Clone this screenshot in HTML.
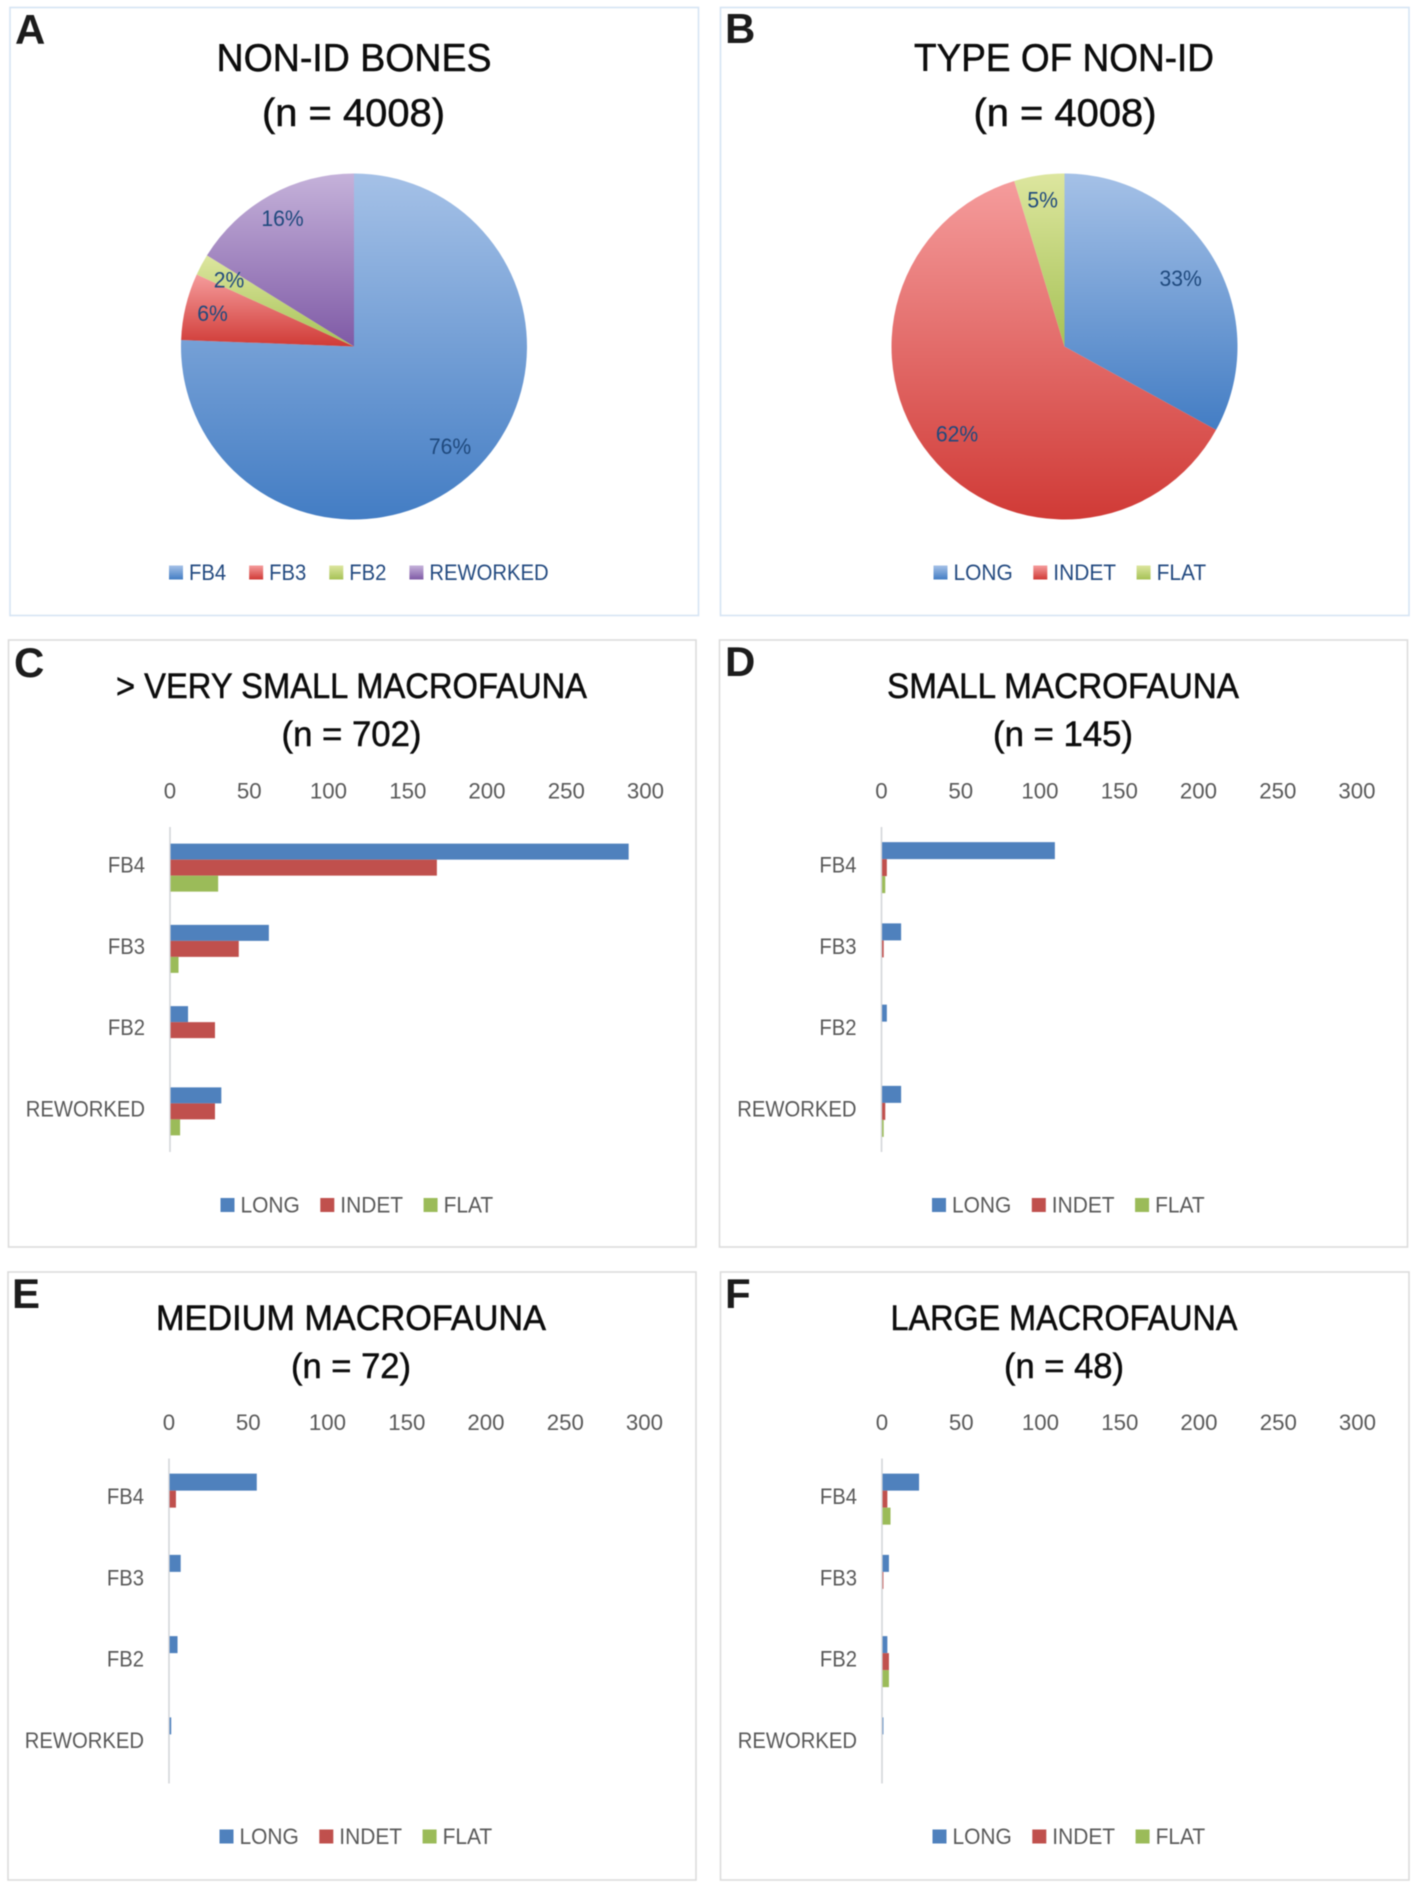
<!DOCTYPE html>
<html lang="en">
<head>
<meta charset="utf-8">
<title>Non-ID bones charts</title>
<style>
html,body{margin:0;padding:0;background:#fff;}
svg{display:block;filter:blur(0.45px);}
text{font-family:"Liberation Sans",sans-serif;}
.frame-blue{fill:#fff;stroke:#d6e4f3;stroke-width:1.6;}
.frame-grey{fill:#fff;stroke:#dcdcdc;stroke-width:1.6;}
.letter{font-size:42px;font-weight:700;fill:#1c1c1c;}
.title-pie{font-size:39px;fill:#0d0d0d;stroke:#0d0d0d;stroke-width:0.5;text-anchor:middle;}
.title-bar{font-size:35px;fill:#0d0d0d;stroke:#0d0d0d;stroke-width:0.5;text-anchor:middle;}
</style>
</head>
<body>
<svg id="figure" xmlns="http://www.w3.org/2000/svg" width="1417" height="1887" viewBox="0 0 1417 1887">
  <defs>
    <linearGradient id="grad-blue" x1="0" y1="0" x2="0" y2="1"><stop offset="0" stop-color="#a5c1e7"/><stop offset="1" stop-color="#437dc4"/></linearGradient>
    <linearGradient id="grad-red" x1="0" y1="0" x2="0" y2="1"><stop offset="0" stop-color="#f59c9c"/><stop offset="1" stop-color="#d03a36"/></linearGradient>
    <linearGradient id="grad-green" x1="0" y1="0" x2="0" y2="1"><stop offset="0" stop-color="#dde69f"/><stop offset="1" stop-color="#a6c256"/></linearGradient>
    <linearGradient id="grad-purple" x1="0" y1="0" x2="0" y2="1"><stop offset="0" stop-color="#c5b2da"/><stop offset="1" stop-color="#7f5aa6"/></linearGradient>
  </defs>

  <g id="panel-a">
    <rect class="frame-blue" x="10" y="7.5" width="688.5" height="608"/>
    <text class="letter" x="15" y="44">A</text>
    <text class="title-pie" x="354" y="71" textLength="275" lengthAdjust="spacingAndGlyphs">NON-ID BONES</text>
    <text class="title-pie" x="353.5" y="126" textLength="183" lengthAdjust="spacingAndGlyphs">(n = 4008)</text>
  </g>
  <g id="panel-b">
    <rect class="frame-blue" x="720.5" y="7.5" width="688.5" height="608"/>
    <text class="letter" x="725" y="43">B</text>
    <text class="title-pie" x="1064" y="71" textLength="300" lengthAdjust="spacingAndGlyphs">TYPE OF NON-ID</text>
    <text class="title-pie" x="1065" y="126" textLength="183" lengthAdjust="spacingAndGlyphs">(n = 4008)</text>
  </g>
  <g id="panel-c">
    <rect class="frame-grey" x="8.5" y="640" width="687.5" height="607"/>
    <text class="letter" x="14" y="677">C</text>
    <text class="title-bar" x="351.5" y="698" textLength="471" lengthAdjust="spacingAndGlyphs">&gt; VERY SMALL MACROFAUNA</text>
    <text class="title-bar" x="351.5" y="746" textLength="140" lengthAdjust="spacingAndGlyphs">(n = 702)</text>
  </g>
  <g id="panel-d">
    <rect class="frame-grey" x="719.5" y="640" width="688" height="607"/>
    <text class="letter" x="725" y="676">D</text>
    <text class="title-bar" x="1063" y="698" textLength="352" lengthAdjust="spacingAndGlyphs">SMALL MACROFAUNA</text>
    <text class="title-bar" x="1063" y="746" textLength="140" lengthAdjust="spacingAndGlyphs">(n = 145)</text>
  </g>
  <g id="panel-e">
    <rect class="frame-grey" x="8" y="1272" width="688" height="608"/>
    <text class="letter" x="12" y="1308">E</text>
    <text class="title-bar" x="351" y="1330" textLength="390" lengthAdjust="spacingAndGlyphs">MEDIUM MACROFAUNA</text>
    <text class="title-bar" x="351" y="1378" textLength="120" lengthAdjust="spacingAndGlyphs">(n = 72)</text>
  </g>
  <g id="panel-f">
    <rect class="frame-grey" x="720.5" y="1272" width="688.5" height="608"/>
    <text class="letter" x="725" y="1308">F</text>
    <text class="title-bar" x="1064" y="1330" textLength="347" lengthAdjust="spacingAndGlyphs">LARGE MACROFAUNA</text>
    <text class="title-bar" x="1064" y="1378" textLength="120" lengthAdjust="spacingAndGlyphs">(n = 48)</text>
  </g>
</svg>

<script>
// ---- data: pie charts ----
var pieACategories = ['FB4', 'FB3', 'FB2', 'REWORKED'];
var pieAValues = [3030, 250, 80, 648];
var pieBCategories = ['LONG', 'INDET', 'FLAT'];
var pieBValues = [1323, 2497, 188];

// ---- data: bar charts ----
var barCategories = ['FB4', 'FB3', 'FB2', 'REWORKED'];
var seriesNames = ['LONG', 'INDET', 'FLAT'];
var xTickValues = [0, 50, 100, 150, 200, 250, 300];

var panelCLong = [289, 62, 11, 32];
var panelCIndet = [168, 43, 28, 28];
var panelCFlat = [30, 5, 0, 6];

var panelDLong = [109, 12, 3, 12];
var panelDIndet = [3, 1, 0, 2];
var panelDFlat = [2, 0, 0, 1];

var panelELong = [55, 7, 5, 1];
var panelEIndet = [4, 0, 0, 0];
var panelEFlat = [0, 0, 0, 0];

var panelFLong = [23, 4, 3, 0.5];
var panelFIndet = [3, 0.5, 4, 0];
var panelFFlat = [5, 0, 4, 0];

// ---- drawing helpers ----
var NS = 'http://www.w3.org/2000/svg';
var seriesColors = ['#4f81bd', '#c0504d', '#9bbb59'];
var pieFills = ['url(#grad-blue)', 'url(#grad-red)', 'url(#grad-green)', 'url(#grad-purple)'];
var pieThreeFills = ['url(#grad-blue)', 'url(#grad-red)', 'url(#grad-green)'];
var pieALabelRadius = [0.8, 0.84, 0.82, 0.85];
var pieBLabelRadius = [0.78, 0.8, 0.86];

function addText(parent, str, x, y, size, color, anchor, squeeze) {
  var el = document.createElementNS(NS, 'text');
  el.textContent = str;
  el.setAttribute('x', x);
  el.setAttribute('y', y);
  el.setAttribute('font-size', size);
  el.setAttribute('fill', color);
  el.setAttribute('text-anchor', anchor);
  parent.appendChild(el);
  var w = el.getComputedTextLength() * squeeze;
  el.setAttribute('textLength', w.toFixed(2));
  el.setAttribute('lengthAdjust', 'spacingAndGlyphs');
  return el;
}

function addLegend(parent, names, fills, startX, centerY, color, gap, squeeze) {
  var x = startX;
  for (var i = 0; i < names.length; i++) {
    var sw = document.createElementNS(NS, 'rect');
    
    
    sw.setAttribute('x', x);
    sw.setAttribute('y', centerY - 7);
    sw.setAttribute('width', 14);
    sw.setAttribute('height', 14);
    sw.setAttribute('fill', fills[i]);
    parent.appendChild(sw);
    var t = addText(parent, names[i], x + 20, centerY + 7.5, 22.5, color, 'start', squeeze);
    
    
    x += 20 + parseFloat(t.getAttribute('textLength')) + gap;
  }
}

function drawPie(panelId, names, values, fills, radii, cx, cy, r, legendX, legendGap, legendSqueeze) {
  var panel = document.getElementById(panelId);
  var total = 0;
  for (var i = 0; i < values.length; i++) { total += values[i]; }
  var cum = 0;
  var labels = [];
  for (var j = 0; j < values.length; j++) {
    var a0 = cum / total * 2 * Math.PI;
    cum += values[j];
    var a1 = cum / total * 2 * Math.PI;
    var mid = (a0 + a1) / 2;
    var large = (a1 - a0) > Math.PI ? 1 : 0;
    var d = 'M' + cx + ' ' + cy +
      'L' + (cx + r * Math.sin(a0)).toFixed(2) + ' ' + (cy - r * Math.cos(a0)).toFixed(2) +
      'A' + r + ' ' + r + ' 0 ' + large + ' 1 ' +
      (cx + r * Math.sin(a1)).toFixed(2) + ' ' + (cy - r * Math.cos(a1)).toFixed(2) + 'Z';
    var slice = document.createElementNS(NS, 'path');
    
    
    slice.setAttribute('d', d);
    slice.setAttribute('fill', fills[j]);
    panel.appendChild(slice);
    labels.push({
      text: Math.round(values[j] / total * 100) + '%',
      x: cx + radii[j] * r * Math.sin(mid),
      y: cy - radii[j] * r * Math.cos(mid)
    });
  }
  for (var k = 0; k < labels.length; k++) {
    var lab = addText(panel, labels[k].text, labels[k].x.toFixed(1), (labels[k].y + 8).toFixed(1), 22.5, '#1f497d', 'middle', 0.94);
    
    
  }
  addLegend(panel, names, fills, legendX, 572.5, '#234a80', legendGap, legendSqueeze);
}

function drawBars(panelId, longVals, indetVals, flatVals, axisX, axisTop, barH) {
  var panel = document.getElementById(panelId);
  var axisLen = 325;
  var maxTick = xTickValues[xTickValues.length - 1];
  function xScale(v) { return axisX + v / maxTick * 475.5; }
  function bandCenter(i) { return axisTop + (i + 0.5) * axisLen / barCategories.length; }

  var line = document.createElementNS(NS, 'line');
  
  
  line.setAttribute('x1', axisX);
  line.setAttribute('x2', axisX);
  line.setAttribute('y1', axisTop);
  line.setAttribute('y2', axisTop + axisLen);
  line.setAttribute('stroke', '#d4d6da');
  line.setAttribute('stroke-width', 1.6);
  panel.appendChild(line);

  for (var t = 0; t < xTickValues.length; t++) {
    var tick = addText(panel, String(xTickValues[t]), xScale(xTickValues[t]).toFixed(1), axisTop - 28.5, 22.5, '#595959', 'middle', 0.99);
    
    
  }

  var series = [longVals, indetVals, flatVals];
  for (var c = 0; c < barCategories.length; c++) {
    var cat = addText(panel, barCategories[c], axisX - 25, bandCenter(c) + 5, 22.5, '#595959', 'end', 0.9);
    
    
    for (var s = 0; s < series.length; s++) {
      var bar = document.createElementNS(NS, 'rect');
      
      
      bar.setAttribute('x', xScale(0) + 0.6);
      bar.setAttribute('y', (bandCenter(c) - 1.5 * barH + s * barH).toFixed(2));
      bar.setAttribute('width', Math.max(0, xScale(series[s][c]) - xScale(0)).toFixed(2));
      bar.setAttribute('height', barH);
      bar.setAttribute('fill', seriesColors[s]);
      panel.appendChild(bar);
    }
  }
  addLegend(panel, seriesNames, seriesColors, axisX + 50.5, axisTop + 378, '#595959', 20.5, 0.93);
}

document.fonts.ready.then(function () {
  drawPie('panel-a', pieACategories, pieAValues, pieFills, pieALabelRadius, 354, 346.5, 173, 169, 23, 0.9);
  drawPie('panel-b', pieBCategories, pieBValues, pieThreeFills, pieBLabelRadius, 1064.5, 346.5, 173, 933.5, 20.5, 0.93);
  drawBars('panel-c', panelCLong, panelCIndet, panelCFlat, 170, 827, 16);
  drawBars('panel-d', panelDLong, panelDIndet, panelDFlat, 881.5, 827, 17);
  drawBars('panel-e', panelELong, panelEIndet, panelEFlat, 169, 1458.5, 17);
  drawBars('panel-f', panelFLong, panelFIndet, panelFFlat, 882, 1458.5, 17);
});
</script>
</body>
</html>
